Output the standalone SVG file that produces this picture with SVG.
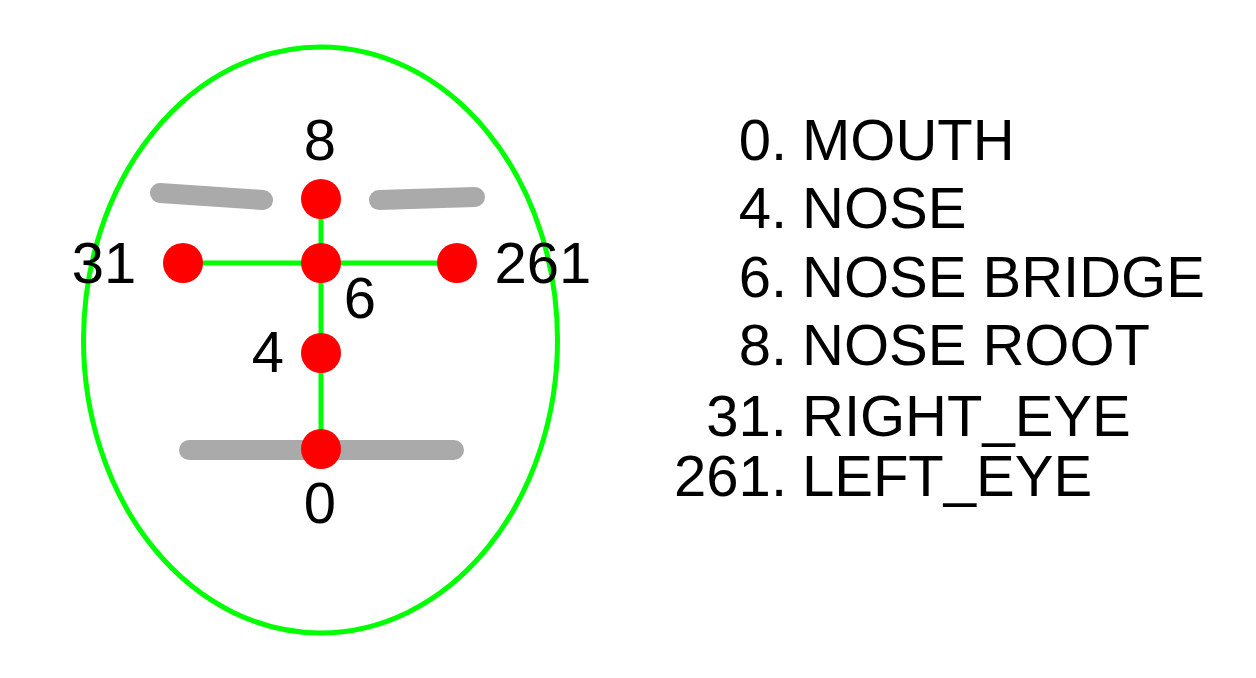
<svg xmlns="http://www.w3.org/2000/svg" width="1256" height="678" viewBox="0 0 1256 678">
<style>
  text { font-family: "Liberation Sans", Arial, sans-serif; font-size: 58px; fill: #000; }
  .lbl { text-anchor: middle; }
  .num { text-anchor: end; }
  .feat { fill: none; stroke: #aaaaaa; stroke-width: 20; stroke-linecap: round; }
  .edge { stroke: #00ff00; stroke-width: 5; fill: none; }
  .pt { fill: #ff0000; }
</style>
<rect width="1256" height="678" fill="#ffffff"/>
<g id="face">
  <ellipse cx="320.5" cy="340" rx="237" ry="293" fill="none" stroke="#00ff00" stroke-width="5"/>
  <line class="feat" x1="160" y1="193" x2="263" y2="200"/>
  <line class="feat" x1="379" y1="200" x2="475" y2="197"/>
  <line class="feat" x1="189" y1="450" x2="454" y2="450"/>
</g>
<g id="connectors">
  <line class="edge" x1="321" y1="199" x2="321" y2="263"/>
  <line class="edge" x1="183" y1="263" x2="457" y2="263"/>
  <line class="edge" x1="321" y1="263" x2="321" y2="353"/>
  <line class="edge" x1="321" y1="353" x2="321" y2="449"/>
</g>
<g id="node-8"><circle class="pt" cx="321" cy="199" r="20"/><text class="lbl" x="320" y="160">8</text></g>
<g id="node-6"><circle class="pt" cx="321" cy="263" r="20"/><text class="lbl" x="360" y="318">6</text></g>
<g id="node-31"><circle class="pt" cx="183" cy="263" r="20"/><text class="lbl" x="104" y="283">31</text></g>
<g id="node-261"><circle class="pt" cx="457" cy="263" r="20"/><text class="lbl" x="543" y="283">261</text></g>
<g id="node-4"><circle class="pt" cx="321" cy="353" r="20"/><text class="lbl" x="268" y="372">4</text></g>
<g id="node-0"><circle class="pt" cx="321" cy="449" r="20"/><text class="lbl" x="320" y="523">0</text></g>
<g id="legend">
  <text class="num" x="787" y="160">0.</text><text x="802" y="160">MOUTH</text>
  <text class="num" x="787" y="228">4.</text><text x="802" y="228">NOSE</text>
  <text class="num" x="787" y="297">6.</text><text x="802" y="297">NOSE BRIDGE</text>
  <text class="num" x="787" y="365">8.</text><text x="802" y="365">NOSE ROOT</text>
  <text class="num" x="787" y="436">31.</text><text x="802" y="436">RIGHT_EYE</text>
  <text class="num" x="787" y="496">261.</text><text x="802" y="496">LEFT_EYE</text>
</g>
</svg>
